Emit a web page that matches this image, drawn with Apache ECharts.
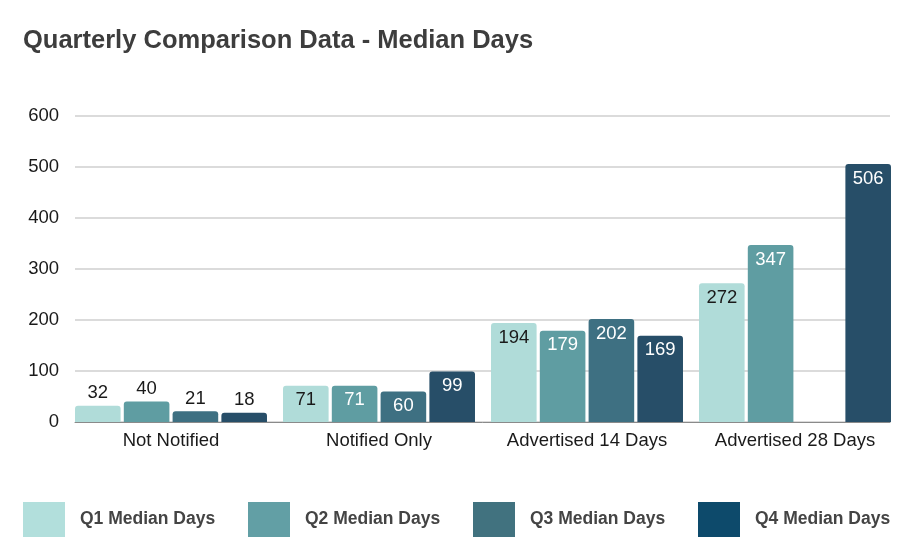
<!DOCTYPE html>
<html><head><meta charset="utf-8">
<script src="https://cdn.jsdelivr.net/npm/echarts@6/dist/echarts.min.js"></script>
<style>html,body{margin:0;padding:0;background:#fff}#c{width:918px;height:555px}</style>
</head><body><div id="c"></div>
<script>
var categories = ['Not Notified', 'Notified Only', 'Advertised 14 Days', 'Advertised 28 Days'];
var seriesNames = ['Q1 Median Days', 'Q2 Median Days', 'Q3 Median Days', 'Q4 Median Days'];
var q1 = [32, 71, 194, 272];
var q2 = [40, 71, 179, 347];
var q3 = [21, 60, 202, null];
var q4 = [18, 99, 169, 506];
var yTicks = [0, 100, 200, 300, 400, 500, 600];

var barColors = ['#b0dcd9', '#5f9da2', '#3e7082', '#274e68'];
var legendColors = ['#b2dfdc', '#629fa5', '#41727f', '#0d4a6b'];
var insideText = ['#1a1a1a', '#ffffff', '#ffffff', '#ffffff'];
var values = [q1, q2, q3, q4];
var FONT = 'Liberation Sans, Arial, sans-serif';

var chart = echarts.init(document.getElementById('c'));
var series = values.map(function (arr, i) {
  return {
    name: seriesNames[i], type: 'bar', xAxisIndex: 1, yAxisIndex: 1,
    barGap: '7%', barCategoryGap: '7.7%',
    itemStyle: { color: barColors[i], borderRadius: [3, 3, 0, 0] },
    data: arr.map(function (v) {
      if (v === null) return null;
      var inside = v >= 50;
      return {
        value: v,
        label: {
          show: true, position: inside ? 'insideTop' : 'top', distance: inside ? 5 : 3,
          color: inside ? insideText[i] : '#1a1a1a',
          fontSize: 18.5, fontFamily: FONT
        }
      };
    })
  };
});
series.push({ type: 'bar', xAxisIndex: 0, yAxisIndex: 0, data: [], silent: true });

var legends = seriesNames.map(function (n, i) {
  return {
    data: [{ name: n, itemStyle: { color: legendColors[i] } }],
    left: 23 + i * 225, top: 502, padding: 0, itemWidth: 42, itemHeight: 35,
    icon: 'rect', selectedMode: false,
    textStyle: { fontSize: 17.5, fontWeight: 'bold', color: '#444', fontFamily: FONT, padding: [0, 0, 0, 10] }
  };
});

chart.setOption({
  animation: false,
  title: {
    text: 'Quarterly Comparison Data - Median Days', left: 18, top: 23,
    textStyle: { fontSize: 25.5, fontWeight: 'bold', color: '#3d3d3d', fontFamily: FONT }
  },
  legend: legends,
  grid: [
    { left: 75, right: 28, top: 116, bottom: 133 },
    { left: 67, right: 19, top: 116, bottom: 133 }
  ],
  xAxis: [
    { type: 'category', gridIndex: 0, data: categories, axisLine: { lineStyle: { color: '#8a8a8a' } }, axisTick: { show: false }, axisLabel: { show: false } },
    { type: 'category', gridIndex: 1, data: categories, axisLine: { show: false }, axisTick: { show: false },
      axisLabel: { interval: 0, fontSize: 18.5, color: '#1a1a1a', margin: 9, fontFamily: FONT } }
  ],
  yAxis: [
    { type: 'value', gridIndex: 0, min: yTicks[0], max: yTicks[yTicks.length - 1], interval: 100,
      axisLine: { show: false }, axisTick: { show: false },
      axisLabel: { fontSize: 18.5, color: '#1a1a1a', margin: 16, fontFamily: FONT },
      splitLine: { lineStyle: { color: '#cfcfcf', width: 1.5 } } },
    { type: 'value', gridIndex: 1, min: yTicks[0], max: yTicks[yTicks.length - 1], interval: 100, show: false, splitLine: { show: false } }
  ],
  series: series
});
</script></body></html>
